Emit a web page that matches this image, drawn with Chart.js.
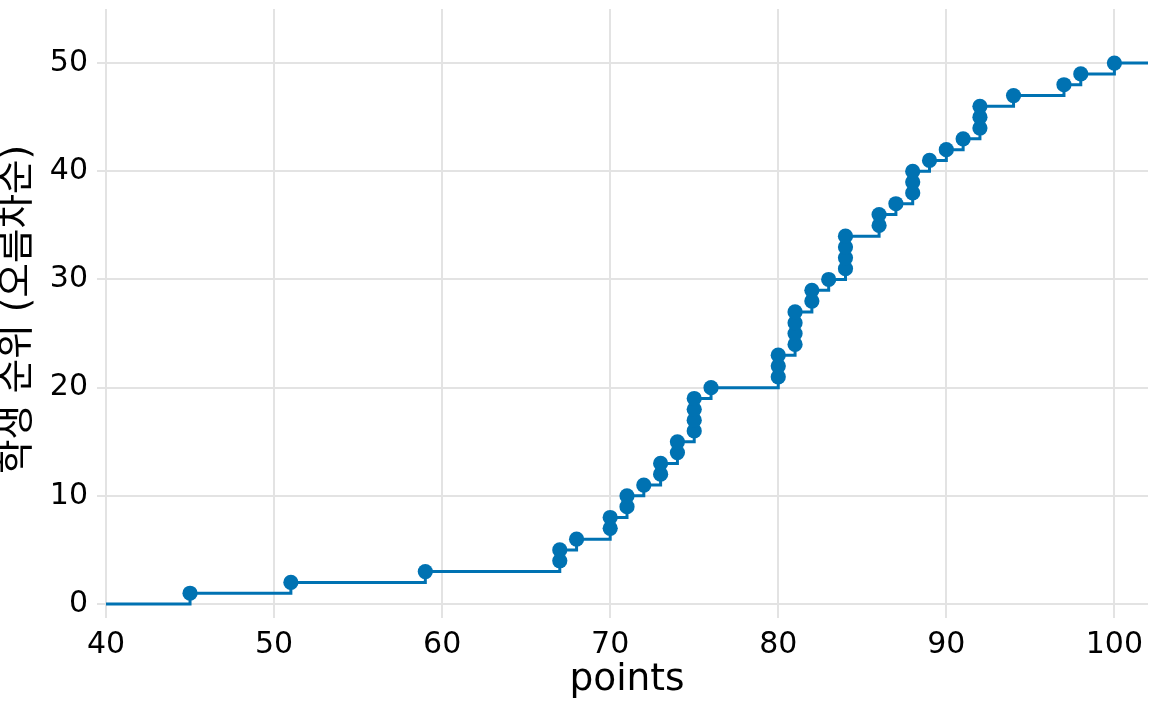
<!DOCTYPE html>
<html>
<head>
<meta charset="utf-8">
<script src="https://cdn.jsdelivr.net/npm/chart.js@4/dist/chart.umd.min.js"></script>
<style>
  html, body { margin: 0; padding: 0; background: #fff; }
  #wrap { width: 1152px; height: 711px; }
</style>
</head>
<body>
<div id="wrap"><canvas id="rank-chart" width="1152" height="711"></canvas></div>
<script>
// student scores, sorted, with their rank
const scores = [45, 51, 59, 67, 67, 68, 70, 70, 71, 71,
                72, 73, 73, 74, 74, 75, 75, 75, 75, 76,
                80, 80, 80, 81, 81, 81, 81, 82, 82, 83,
                84, 84, 84, 84, 86, 86, 87, 88, 88, 88,
                89, 90, 91, 92, 92, 92, 94, 97, 98, 100];
const ranks = [1, 2, 3, 4, 5, 6, 7, 8, 9, 10,
               11, 12, 13, 14, 15, 16, 17, 18, 19, 20,
               21, 22, 23, 24, 25, 26, 27, 28, 29, 30,
               31, 32, 33, 34, 35, 36, 37, 38, 39, 40,
               41, 42, 43, 44, 45, 46, 47, 48, 49, 50];

const xTicks = [40, 50, 60, 70, 80, 90, 100];
const yTicks = [0, 10, 20, 30, 40, 50];

const xMin = 40, xMax = 102;
const yMin = -0.55, yMax = 55;

const blue = '#0072B2';
const gridGrey = '#e3e3e3';
const family = "'DejaVu Sans', 'Noto Sans CJK KR', sans-serif";
const tickFont = { family: family, size: 30 };
const titleFont = { family: family, size: 37.5, lineHeight: 1 };

const points = scores.map((s, i) => ({ x: s, y: ranks[i] }));
// step line runs from the left edge at rank 0 to the right edge at the last rank
const stepLine = [{ x: xMin, y: 0 }, ...points, { x: xMax, y: ranks[ranks.length - 1] }];

const ctx = document.getElementById('rank-chart').getContext('2d');
new Chart(ctx, {
  type: 'scatter',
  data: {
    datasets: [
      {
        type: 'line',
        data: stepLine,
        stepped: true,
        borderColor: blue,
        borderWidth: 3,
        pointRadius: 0,
        fill: false,
        order: 2
      },
      {
        data: points,
        backgroundColor: blue,
        borderColor: blue,
        borderWidth: 0,
        pointRadius: 7.6,
        order: 1
      }
    ]
  },
  options: {
    responsive: false,
    animation: false,
    events: [],
    layout: { autoPadding: false, padding: { top: 9, right: 4, left: 0, bottom: 0 } },
    plugins: { legend: { display: false }, tooltip: { enabled: false } },
    scales: {
      x: {
        type: 'linear',
        min: xMin,
        max: xMax,
        afterBuildTicks: axis => { axis.ticks = xTicks.map(v => ({ value: v })); },
        afterFit: axis => {
          axis.height = 101;
          axis.paddingLeft = 0;
          axis.paddingRight = 0;
        },
        ticks: { font: tickFont, color: '#000', padding: 9, maxRotation: 0, autoSkip: false },
        grid: { color: gridGrey, lineWidth: 2, tickLength: 8, tickColor: gridGrey },
        border: { display: false },
        title: {
          display: true,
          text: 'points',
          font: titleFont,
          color: '#000',
          padding: { top: 0, bottom: 12 }
        }
      },
      y: {
        type: 'linear',
        min: yMin,
        max: yMax,
        afterBuildTicks: axis => { axis.ticks = yTicks.map(v => ({ value: v })); },
        afterFit: axis => {
          axis.width = 106;
          axis.paddingTop = 0;
          axis.paddingBottom = 0;
        },
        ticks: { font: tickFont, color: '#000', padding: 9 },
        grid: { color: gridGrey, lineWidth: 2, tickLength: 9, tickColor: gridGrey },
        border: { display: false },
        title: {
          display: true,
          text: '학생 순위 (오름차순)',
          font: titleFont,
          color: '#000',
          padding: { top: 0, bottom: 0 }
        }
      }
    }
  }
});
</script>
</body>
</html>
